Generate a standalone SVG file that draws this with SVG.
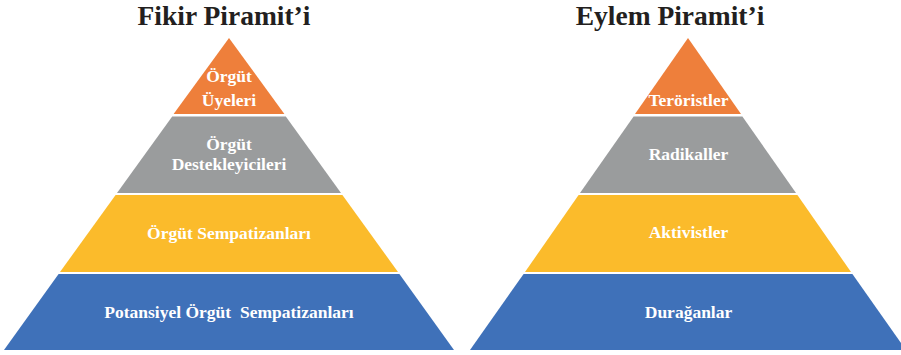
<svg xmlns="http://www.w3.org/2000/svg" width="901" height="355" viewBox="0 0 901 355">
<style>
.title{font-family:"Liberation Serif","Times New Roman",serif;font-weight:bold;font-size:27.5px;fill:#231f20;text-anchor:middle}
.lbl{font-family:"Liberation Serif","Times New Roman",serif;font-weight:bold;font-size:17.5px;fill:#ffffff;text-anchor:middle}
.o{fill:#EE7F3B}.g{fill:#9A9C9D}.y{fill:#FBBB2B}.b{fill:#3F71B9}
</style>
<rect width="901" height="355" fill="#ffffff"/>
<text class="title" x="224" y="25">Fikir Piramit’i</text>
<text class="title" x="670" y="25">Eylem Piramit’i</text>
<g id="fikir">
<g id="f1"><polygon class="o" points="229,38 284.4,114 173.6,114"/><text class="lbl" x="229" y="82">Örgüt</text><text class="lbl" x="229" y="106">Üyeleri</text></g>
<g id="f2"><polygon class="g" points="172.2,116.5 285.8,116.5 341,193 117,193"/><text class="lbl" x="229" y="150">Örgüt</text><text class="lbl" x="229" y="169.5">Destekleyicileri</text></g>
<g id="f3"><polygon class="y" points="115.6,195 342.4,195 398,272 60,272"/><text class="lbl" x="229" y="239">Örgüt Sempatizanları</text></g>
<g id="f4"><polygon class="b" points="58.6,274 399.4,274 454,350 4,350"/><text class="lbl" x="229" y="318" xml:space="preserve">Potansiyel Örgüt  Sempatizanları</text></g>
</g>
<g id="eylem">
<g id="e1"><polygon class="o" points="688,38 741,114 635,114"/><text class="lbl" x="688.5" y="106">Teröristler</text></g>
<g id="e2"><polygon class="g" points="633.6,116.5 742.4,116.5 796,193 580,193"/><text class="lbl" x="688.5" y="160">Radikaller</text></g>
<g id="e3"><polygon class="y" points="578.6,195 797.4,195 851,272 525,272"/><text class="lbl" x="688.5" y="238">Aktivistler</text></g>
<g id="e4"><polygon class="b" points="523.6,274 852.4,274 906,350 470,350"/><text class="lbl" x="688.5" y="318">Durağanlar</text></g>
</g>
<g id="connectors"/>
</svg>
